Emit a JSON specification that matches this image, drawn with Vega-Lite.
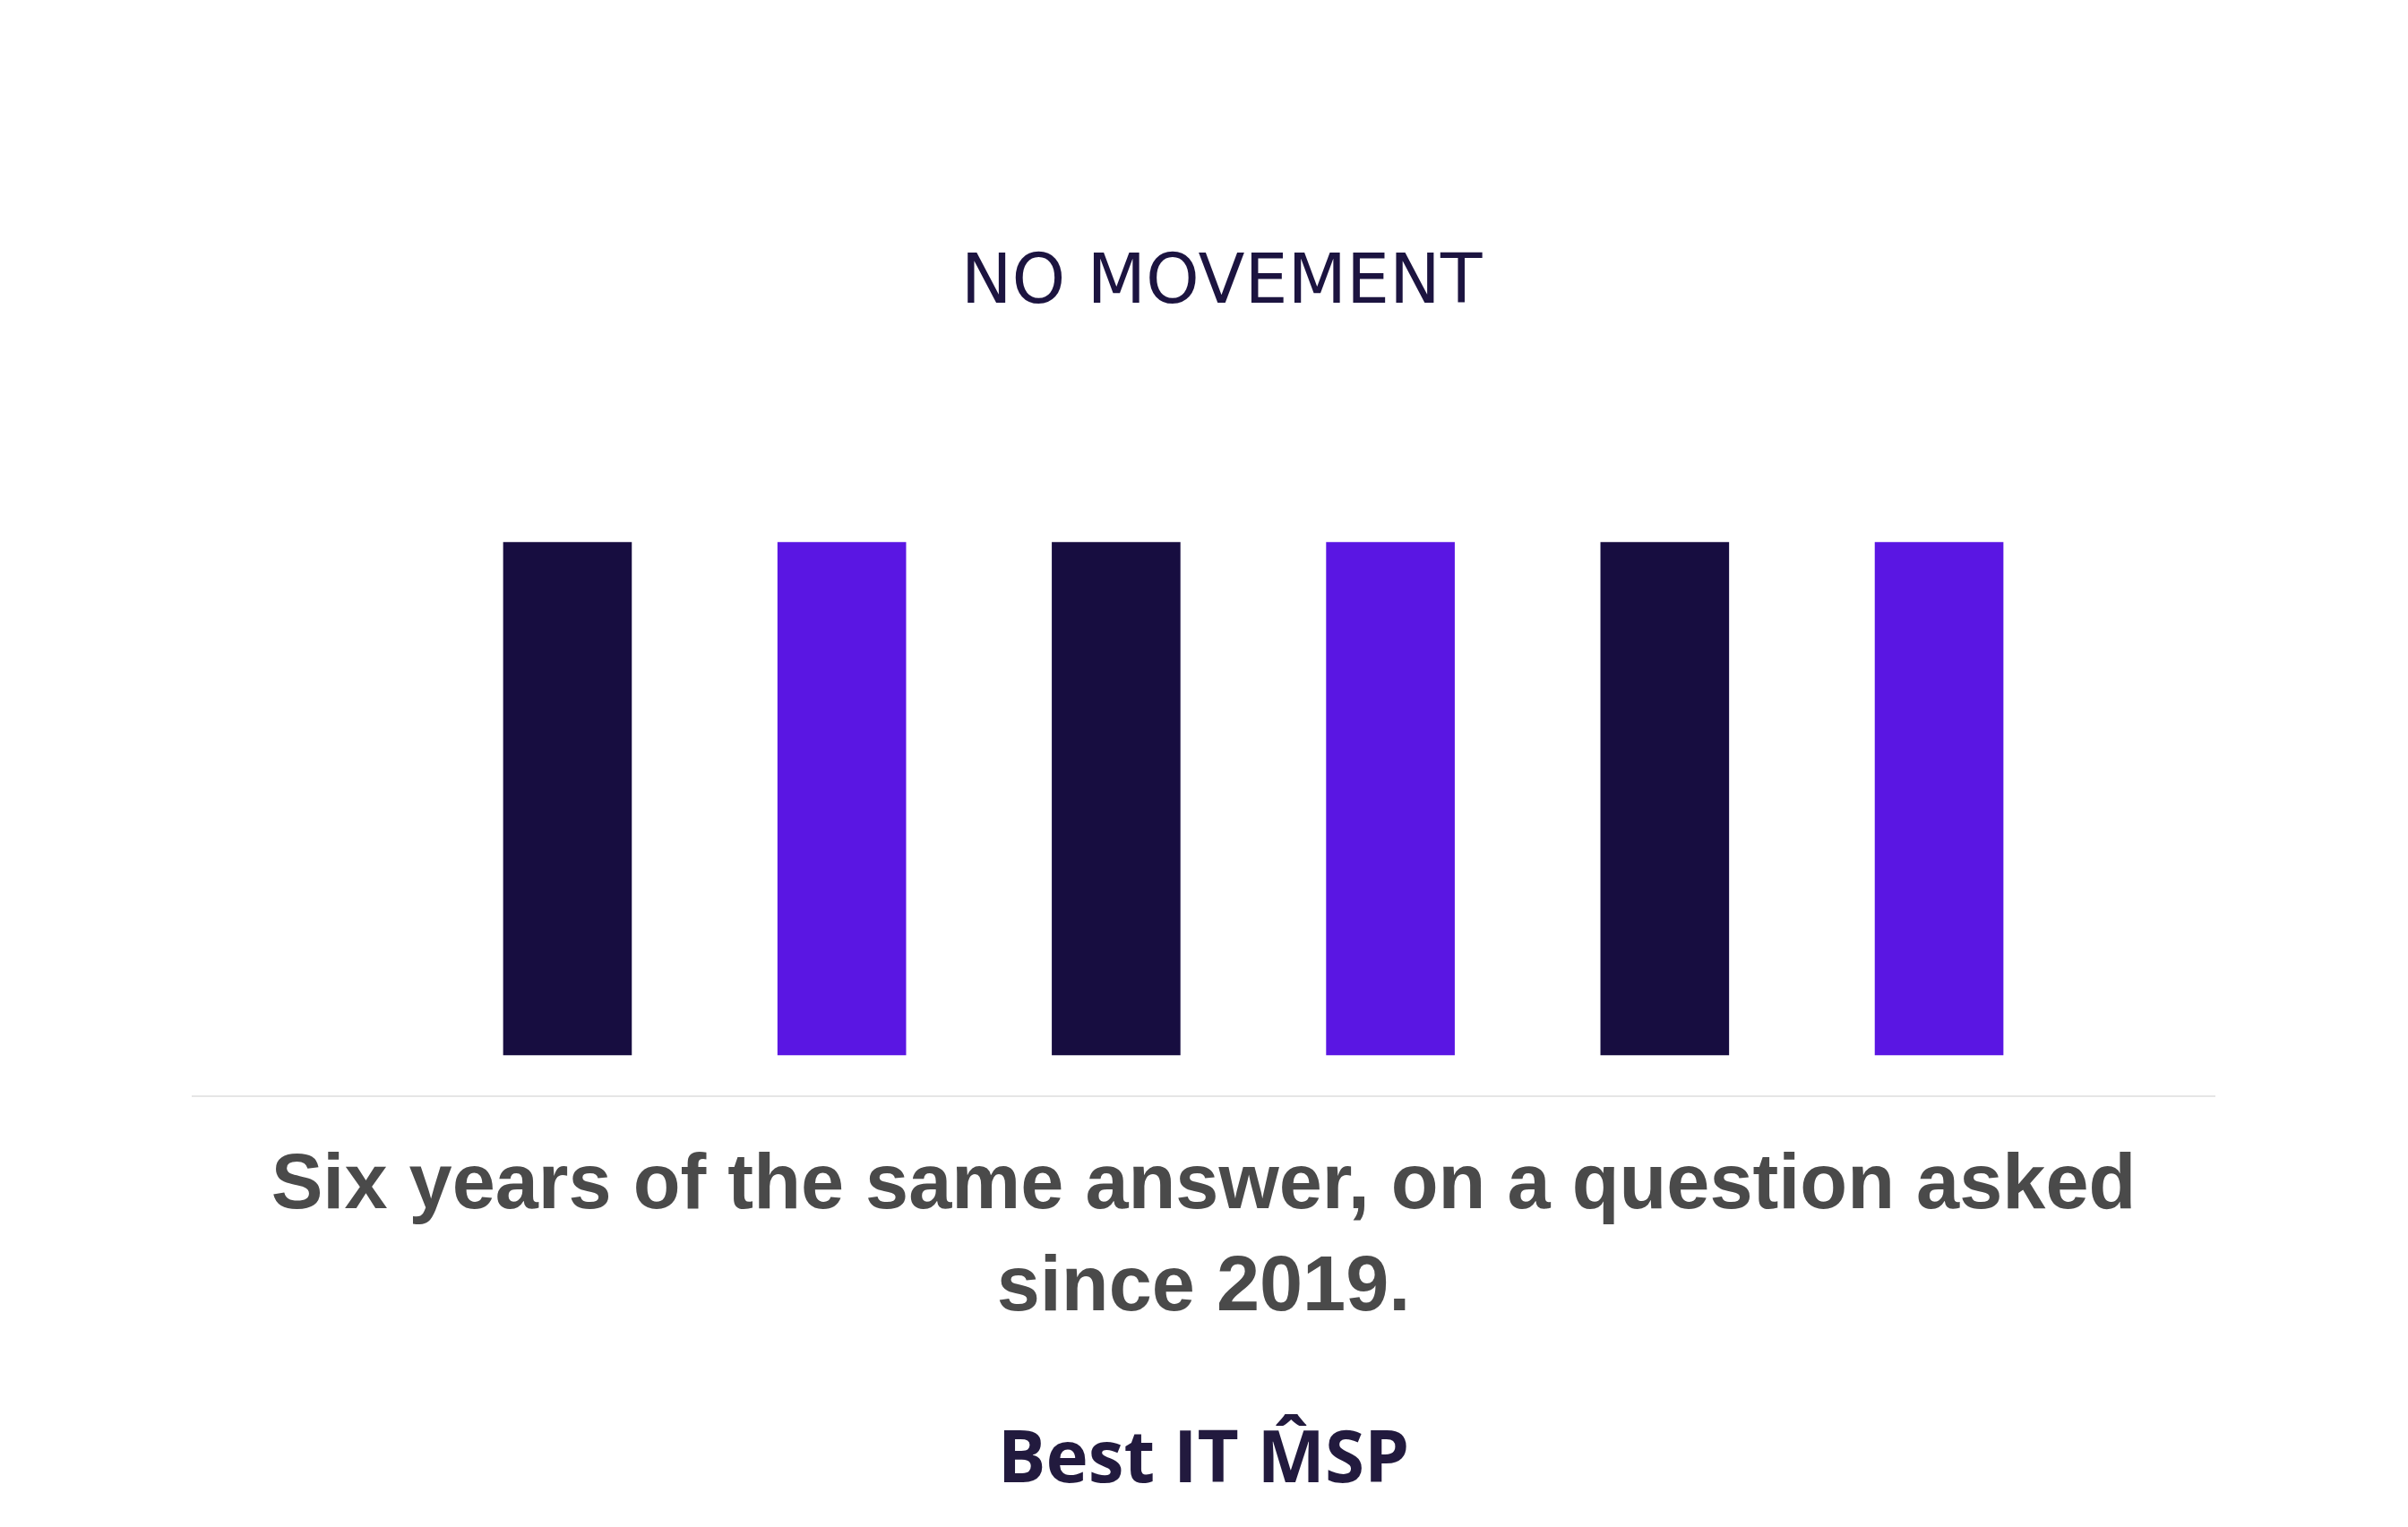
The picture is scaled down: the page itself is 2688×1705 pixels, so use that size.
{
  "$schema": "https://vega.github.io/schema/vega-lite/v6.json",
  "width": 2259,
  "height": 848,
  "autosize": {"type": "none"},
  "padding": {"left": 214, "right": 215, "top": 376, "bottom": 481},
  "background": "#ffffff",
  "config": {"view": {"stroke": null}},
  "title": {
    "text": ["Six years of the same answer, on a question asked", "since 2019."],
    "orient": "bottom",
    "anchor": "middle",
    "font": "Liberation Sans",
    "fontSize": 86.5,
    "fontWeight": "bold",
    "color": "#4a4a4a",
    "lineHeight": 114,
    "offset": 56,
    "subtitle": "Best IT M\u0302SP",
    "subtitleFont": "Open Sans",
    "subtitleFontSize": 80,
    "subtitleFontWeight": "bold",
    "subtitleColor": "#221a3e",
    "subtitlePadding": 110
  },
  "layer": [
    {
      "data": {"values": [{"edge": -8}]},
      "mark": {"type": "rule", "color": "#e6e6e6", "strokeWidth": 2},
      "encoding": {
        "y": {"field": "edge", "type": "quantitative", "scale": {"domain": [-8, 140]}, "axis": null}
      }
    },
    {
      "data": {
        "values": [
          {"year": "2019", "value": 100, "tone": "dark"},
          {"year": "2020", "value": 100, "tone": "violet"},
          {"year": "2021", "value": 100, "tone": "dark"},
          {"year": "2022", "value": 100, "tone": "violet"},
          {"year": "2023", "value": 100, "tone": "dark"},
          {"year": "2024", "value": 100, "tone": "violet"}
        ]
      },
      "mark": {"type": "bar"},
      "encoding": {
        "x": {
          "field": "year",
          "type": "ordinal",
          "scale": {"paddingInner": 0.531, "paddingOuter": 0.954, "align": 0.595},
          "axis": {
            "orient": "top",
            "title": "NO MOVEMENT",
            "titleFont": "DejaVu Sans",
            "titleFontSize": 76,
            "titleFontWeight": "normal",
            "titleColor": "#1c1440",
            "titlePadding": 23,
            "titleX": 1149,
            "domain": false,
            "ticks": false,
            "labels": false,
            "grid": false
          }
        },
        "y": {"field": "value", "type": "quantitative", "scale": {"domain": [-8, 140]}, "axis": null},
        "color": {
          "field": "tone",
          "type": "nominal",
          "scale": {"domain": ["dark", "violet"], "range": ["#170d40", "#5a16e3"]},
          "legend": null
        }
      }
    }
  ]
}
